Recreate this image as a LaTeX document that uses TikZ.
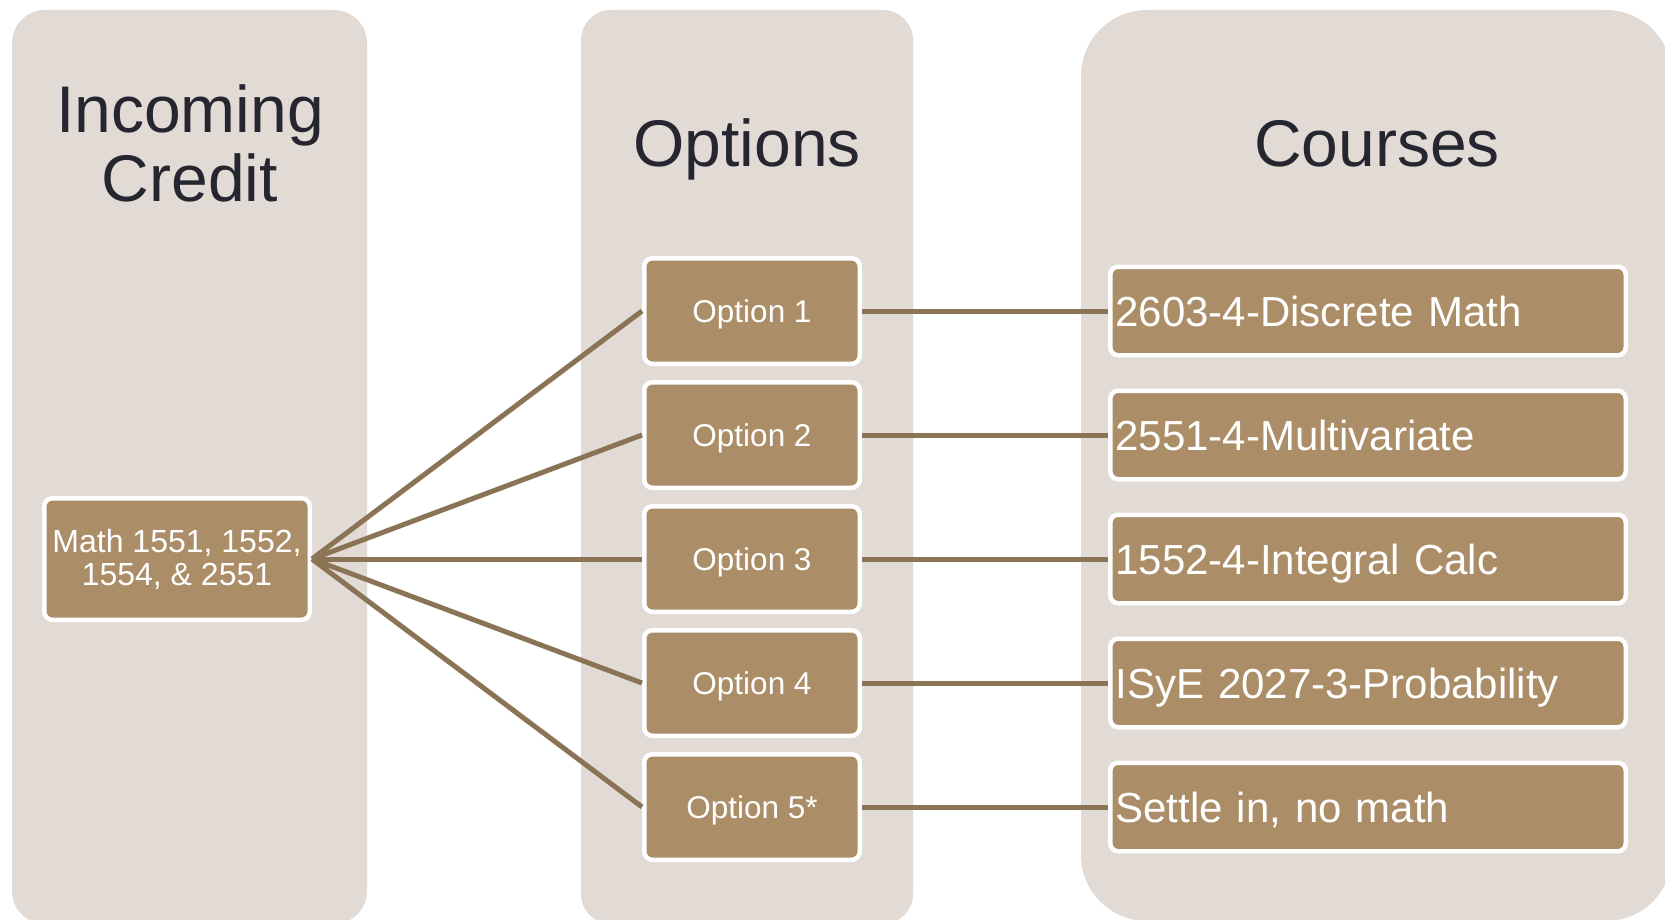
\documentclass[tikz,border=0pt]{standalone}
\usepackage{fontspec}
\setmainfont{Liberation Sans}
\definecolor{colbg}{HTML}{E2DBD5}
\definecolor{boxfill}{HTML}{AB8E67}
\definecolor{linkline}{HTML}{8B7355}
\definecolor{titletext}{HTML}{262630}
\tikzset{
	colshape/.style={fill=colbg},
	headline/.style={text=titletext, font=\fontsize{66}{69}\selectfont, align=center, inner sep=0pt},
	tanbox/.style={draw=white, line width=4.5pt, fill=boxfill, rounded corners=8pt, text=white},
	mathbox/.style={tanbox, font=\fontsize{32}{33}\selectfont, align=center, minimum width=265.5pt, minimum height=121.5pt, inner sep=0pt},
	optbox/.style={tanbox, font=\fontsize{31.5}{33}\selectfont, minimum width=215.5pt, minimum height=105.5pt, inner sep=0pt, text height=22.7pt, text depth=0pt},
	coursebox/.style={tanbox, font=\fontsize{42}{44}\selectfont, text width=505pt, align=left, inner xsep=5.25pt, inner ysep=0pt, minimum height=88.5pt, text height=30pt, text depth=0pt},
	link/.style={draw=linkline, line width=5pt}
}

\begin{document}
\begin{tikzpicture}[x=1pt, y=-1pt]
		%%%%% START %%%%%
		\useasboundingbox (0, 0) rectangle (1665, 920);
		\clip (0, 0) rectangle (1665, 920);
		
		\fill[colshape, rounded corners=33pt] (12, 10) rectangle (367, 924);
		\fill[colshape, rounded corners=30pt] (581, 10) rectangle (913, 924);
		\fill[colshape, rounded corners=66pt] (1081, 10) rectangle (1672, 921);
		
		\node[headline] (incoming) at (190, 143) {Incoming\\Credit};
		\node[headline, anchor=base] (options) at (747, 167) {Options};
		\node[headline, anchor=base] (courses) at (1377, 167) {Courses};
		
		\node[mathbox] (math) at (177, 559) {Math 1551, 1552,\\1554, \& 2551};
		
		\node[optbox] (opt1) at (752, 311) {Option 1};
		\node[optbox] (opt2) at (752, 435) {Option 2};
		\node[optbox] (opt3) at (752, 559) {Option 3};
		\node[optbox] (opt4) at (752, 683) {Option 4};
		\node[optbox] (opt5) at (752, 807) {Option 5*};
		
		\node[coursebox] (discrete) at (1368, 311) {2603-4-Discrete Math};
		\node[coursebox] (multi) at (1368, 435) {2551-4-Multivariate};
		\node[coursebox] (integral) at (1368, 559) {1552-4-Integral Calc};
		\node[coursebox] (prob) at (1368, 683) {ISyE 2027-3-Probability};
		\node[coursebox] (settle) at (1368, 807) {Settle in, no math};
		
		\draw[link] (math.east) -- (opt1.west);
		\draw[link] (math.east) -- (opt2.west);
		\draw[link] (math.east) -- (opt3.west);
		\draw[link] (math.east) -- (opt4.west);
		\draw[link] (math.east) -- (opt5.west);
		
		\draw[link] (opt1.east) -- (discrete.west);
		\draw[link] (opt2.east) -- (multi.west);
		\draw[link] (opt3.east) -- (integral.west);
		\draw[link] (opt4.east) -- (prob.west);
		\draw[link] (opt5.east) -- (settle.west);
		
		%%%%% END %%%%%
	\end{tikzpicture}
\end{document}
